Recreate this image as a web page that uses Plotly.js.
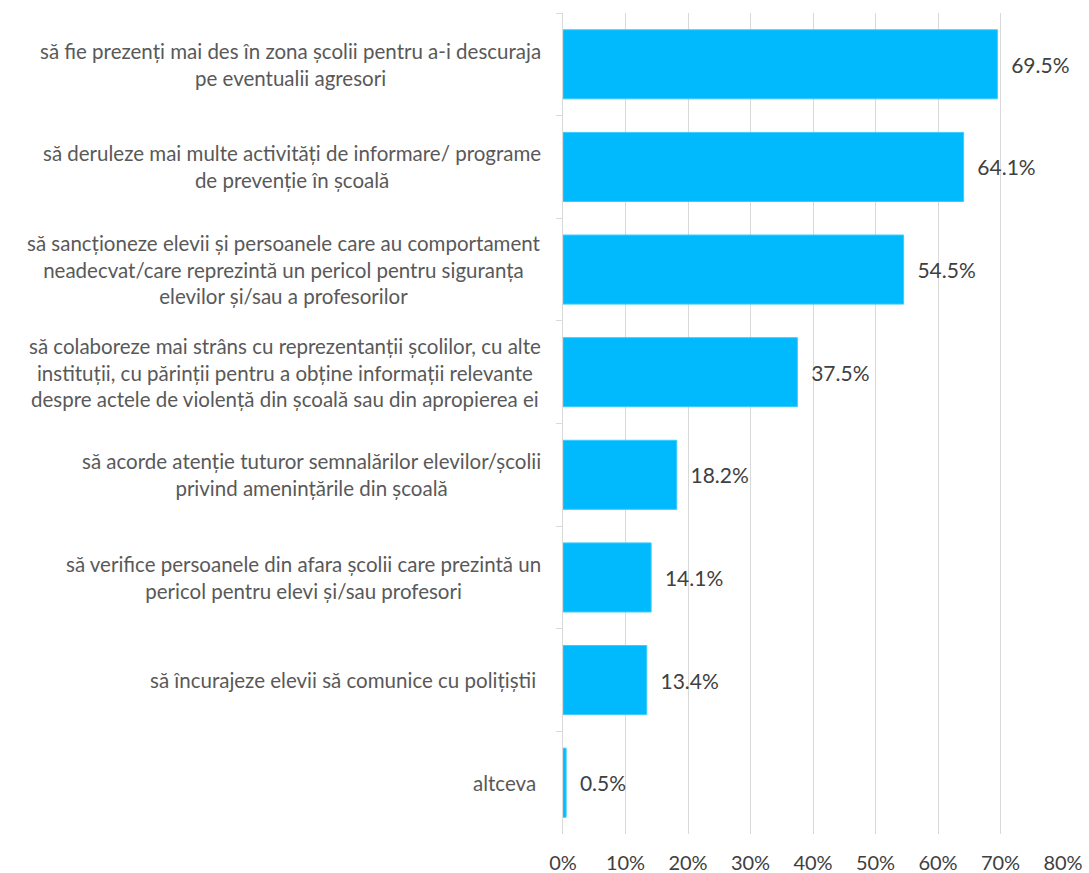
<!DOCTYPE html>
<html>
<head>
<meta charset="utf-8">
<script src="https://cdn.plot.ly/plotly-3.0.1.min.js"></script>
<style>html,body{margin:0;padding:0;background:#fff;}#chart{width:1089px;height:873px;}</style>
</head>
<body>
<div id="chart"></div>
<script>
const categories = [
  "să fie prezenți mai des în zona școlii pentru a-i descuraja<br>pe eventualii agresori",
  "să deruleze mai multe activități de informare/ programe<br>de prevenție în școală",
  "să sancționeze elevii și persoanele care au comportament<br>neadecvat/care reprezintă un pericol pentru siguranța<br>elevilor și/sau a profesorilor",
  "să colaboreze mai strâns cu reprezentanții școlilor, cu alte<br>instituții, cu părinții pentru a obține informații relevante<br>despre actele de violență din școală sau din apropierea ei",
  "să acorde atenție tuturor semnalărilor elevilor/școlii<br>privind amenințările din școală",
  "să verifice persoanele din afara școlii care prezintă un<br>pericol pentru elevi și/sau profesori",
  "să încurajeze elevii să comunice cu polițiștii ",
  "altceva "
];
const values = [69.5, 64.1, 54.5, 37.5, 18.2, 14.1, 13.4, 0.5];
const xTickValues = [0, 10, 20, 30, 40, 50, 60, 70, 80];
const xTickLabels = ["0%", "10%", "20%", "30%", "40%", "50%", "60%", "70%", "80%"];

const FONT = "Lato, 'Open Sans', sans-serif";

const trace = {
  type: "bar",
  orientation: "h",
  y: categories,
  x: values,
  marker: {color: "#00BAFD", line: {color: "#3CCBFF", width: 1}},
  text: values.map(v => "  " + v.toFixed(1) + "%"),
  textposition: "outside",
  textfont: {family: FONT, size: 21, color: "#404040"},
  cliponaxis: false,
  constraintext: "none",
  hoverinfo: "none"
};

const annotations = categories.map(c => ({
  xref: "paper", yref: "y",
  x: -0.04, y: c,
  xanchor: "right", yanchor: "middle",
  align: "center",
  text: c,
  showarrow: false,
  font: {family: FONT, size: 20.5, color: "#595959"}
}));

const layout = {
  width: 1089, height: 873,
  margin: {l: 563, r: 26, t: 13, b: 39, pad: 0},
  paper_bgcolor: "#ffffff",
  plot_bgcolor: "#ffffff",
  showlegend: false,
  bargap: 0.327,
  font: {family: FONT, color: "#595959"},
  xaxis: {
    range: [0, 80],
    tickvals: xTickValues,
    ticktext: xTickLabels,
    showgrid: true,
    gridcolor: "#d9d9d9",
    gridwidth: 1,
    zeroline: false,
    showline: false,
    ticks: "",
    ticklabelstandoff: 15,
    tickfont: {family: FONT, size: 20, color: "#404040"},
    fixedrange: true
  },
  yaxis: {
    type: "category",
    autorange: "reversed",
    showticklabels: false,
    showgrid: false,
    zeroline: false,
    showline: true,
    linecolor: "#d9d9d9",
    linewidth: 1,
    ticks: "outside",
    tickson: "boundaries",
    ticklen: 6,
    tickcolor: "#d9d9d9",
    fixedrange: true
  },
  annotations: annotations
};

Plotly.newPlot("chart", [trace], layout, {displayModeBar: false, staticPlot: true});
</script>
</body>
</html>
